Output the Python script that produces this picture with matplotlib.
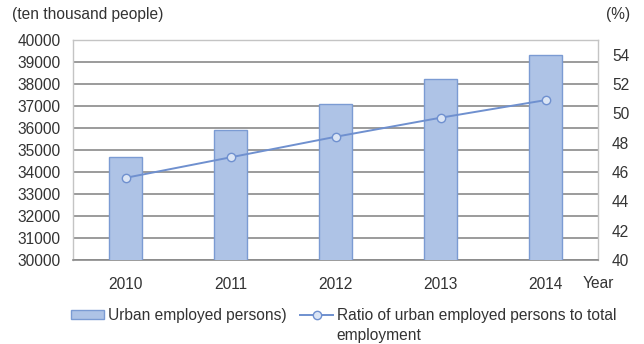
import numpy as np
import matplotlib.pyplot as plt
from matplotlib.lines import Line2D
from matplotlib.patches import Patch

plt.rcParams['font.family'] = ['Liberation Sans', 'DejaVu Sans']

# Urban employment, 2010-2014
years = ['2010', '2011', '2012', '2013', '2014']
urban_employed = [34687, 35914, 37102, 38240, 39310]   # ten thousand people
urban_ratio = [45.6, 47.0, 48.4, 49.7, 50.9]           # % of total employment

bar_face = '#aec3e6'
bar_edge = '#7b9bd3'
line_col = '#6f90cf'
text_col = '#333333'
fs = 11.2

fig = plt.figure(figsize=(6.44, 3.44), dpi=100)
ax = fig.add_axes([73/644, 1 - 260/344, 525/644, 220/344])
x = np.arange(len(years))

ax.bar(x, urban_employed, width=0.305, color=bar_face, edgecolor=bar_edge,
       linewidth=1.0, zorder=3)
ax.set_ylim(30000, 40000)
ax.set_xlim(-0.5, len(years) - 0.5)
ax.set_yticks(np.arange(30000, 40001, 1000))
ax.set_xticks(x)
ax.set_xticklabels(years)
ax.tick_params(axis='both', length=0, labelsize=fs, labelcolor=text_col)
ax.tick_params(axis='x', pad=12)
ax.tick_params(axis='y', pad=9)
ax.grid(axis='y', color='#8a8a8a', linewidth=1.2, zorder=0)
for s in ['left', 'top', 'right']:
    ax.spines[s].set_color('#c4c4c4')
    ax.spines[s].set_linewidth(1.0)
ax.spines['bottom'].set_color('#8a8a8a')
ax.spines['bottom'].set_linewidth(1.2)

ax2 = ax.twinx()
ax2.plot(x, urban_ratio, color=line_col, linewidth=1.4, marker='o',
         markersize=6, markerfacecolor='#dbe5f5', markeredgecolor=line_col,
         markeredgewidth=1.0, zorder=4)
ax2.set_ylim(40, 55)
ax2.set_yticks(np.arange(40, 55, 2))
ax2.tick_params(axis='y', length=0, labelsize=fs, labelcolor=text_col, pad=10)
for s in ax2.spines.values():
    s.set_visible(False)

fig.text(12/644, 1 - 14/344, '(ten thousand people)', fontsize=fs,
         color=text_col, va='center', ha='left')
fig.text(606/644, 1 - 14/344, '(%)', fontsize=fs, color=text_col,
         va='center', ha='left')
fig.text(583/644, 1 - 283/344, 'Year', fontsize=fs, color=text_col,
         va='center', ha='left')

# legend: second label wraps onto its own row under the line entry
blank = Line2D([], [], linestyle='none')
handles = [
    Patch(facecolor=bar_face, edgecolor=bar_edge, linewidth=1.0),
    blank,
    Line2D([], [], color=line_col, linewidth=1.4, marker='o', markersize=6,
           markerfacecolor='#dbe5f5', markeredgecolor=line_col),
    blank,
]
labels = ['Urban employed persons)', '',
          'Ratio of urban employed persons to total', 'employment']
fig.legend(handles, labels, ncol=2, frameon=False, fontsize=fs,
           labelcolor=text_col, loc='upper left',
           bbox_to_anchor=(71/644, 1 - 308/344), handlelength=2.1,
           handleheight=0.6, handletextpad=0.25, columnspacing=0.9,
           labelspacing=0.3, borderaxespad=0, borderpad=0)

fig.savefig('out.png', dpi=100)
